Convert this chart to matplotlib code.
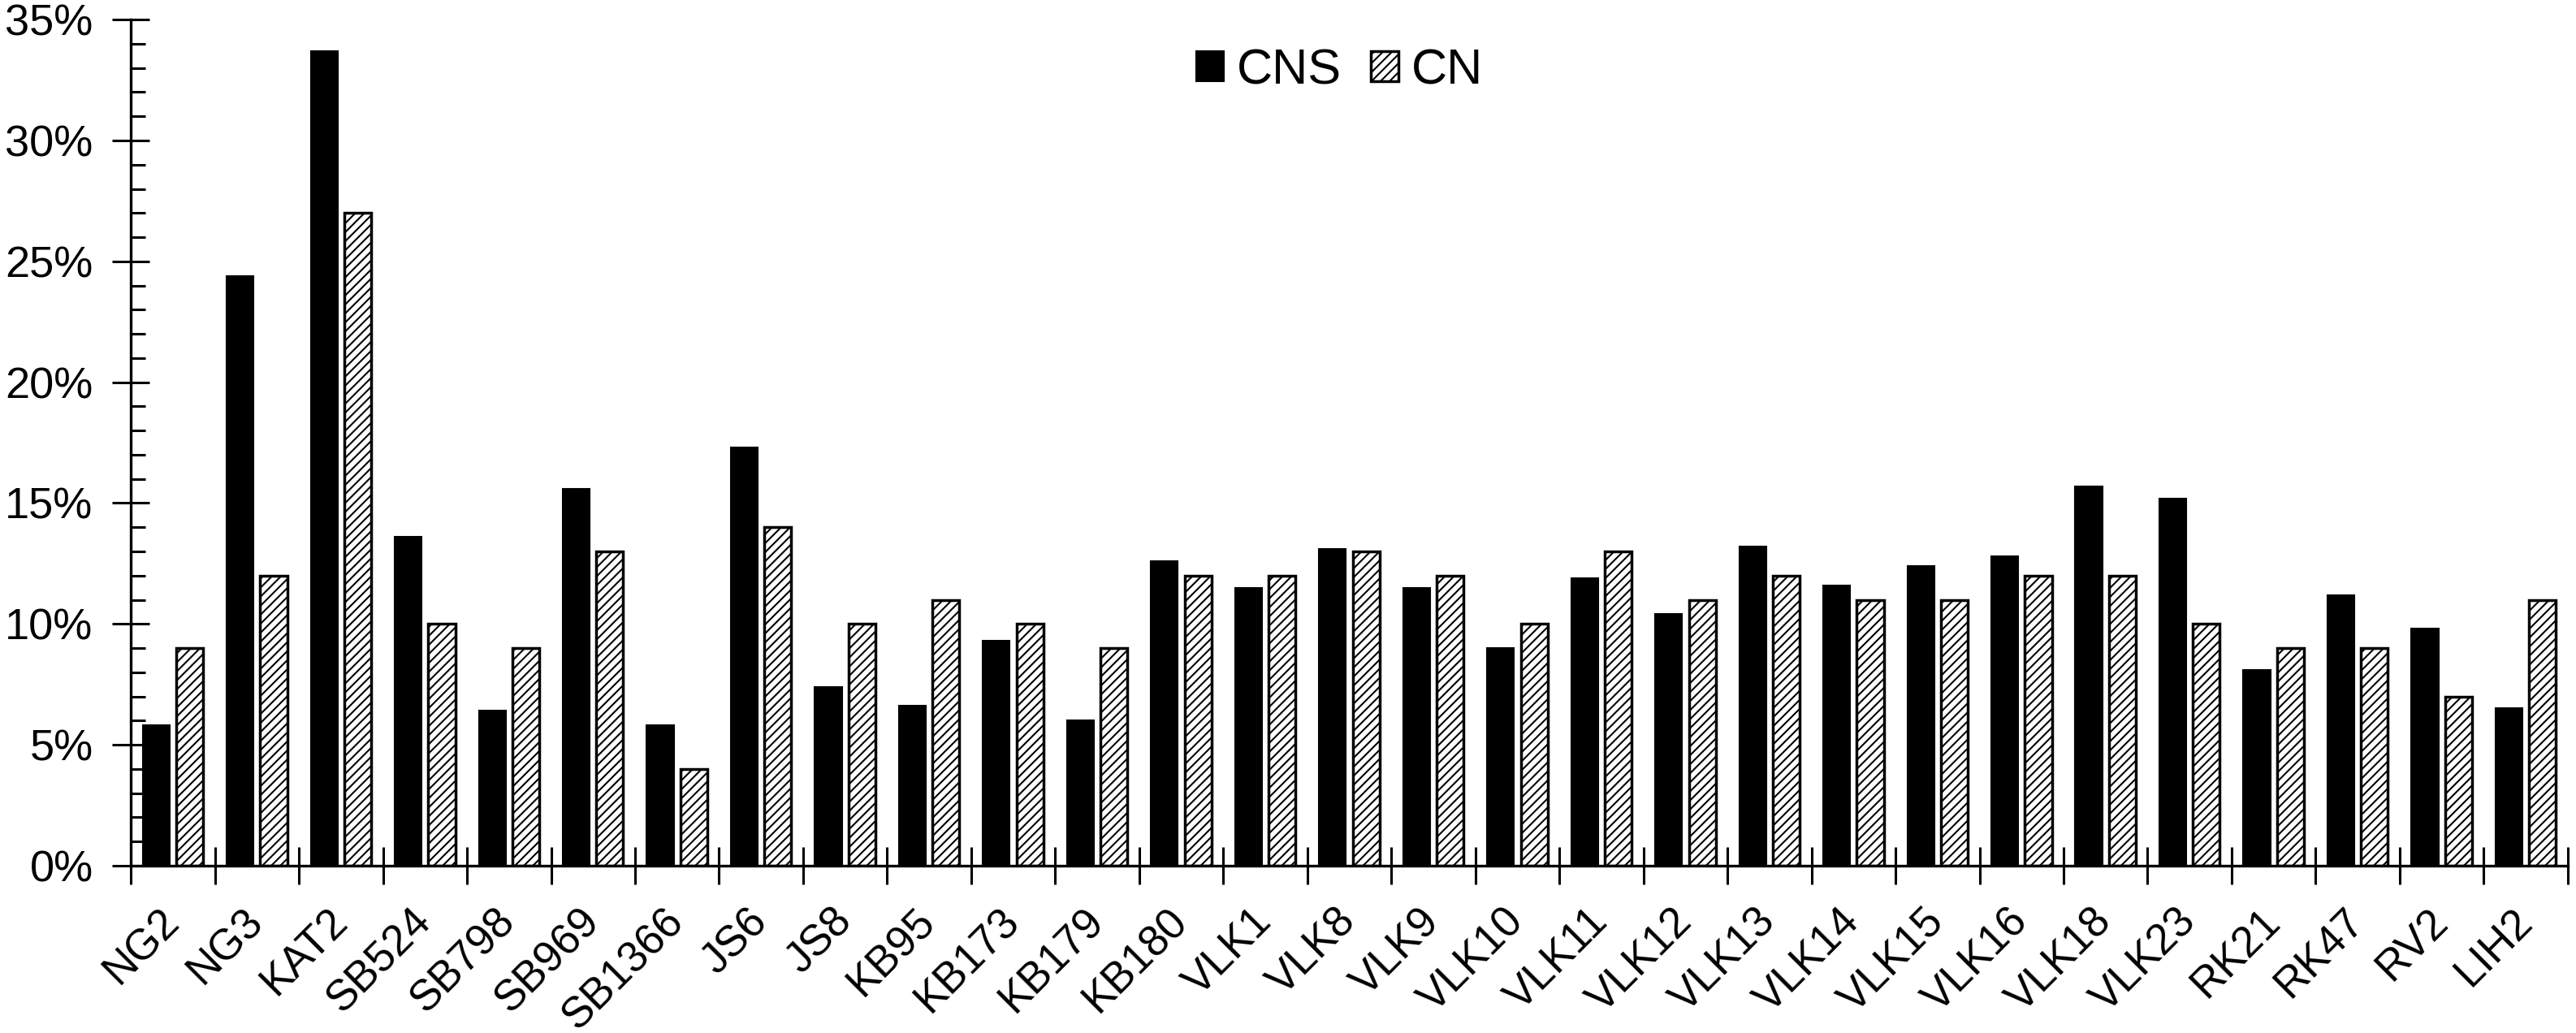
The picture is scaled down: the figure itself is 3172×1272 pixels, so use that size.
import matplotlib
matplotlib.use("Agg")
import matplotlib.pyplot as plt
import numpy as np
from matplotlib.ticker import MultipleLocator, PercentFormatter

plt.rcParams["font.family"] = ["Liberation Sans", "DejaVu Sans"]
plt.rcParams["hatch.linewidth"] = 1.5

strains = ["NG2", "NG3", "KAT2", "SB524", "SB798", "SB969", "SB1366", "JS6", "JS8",
           "KB95", "KB173", "KB179", "KB180", "VLK1", "VLK8", "VLK9", "VLK10", "VLK11",
           "VLK12", "VLK13", "VLK14", "VLK15", "VLK16", "VLK18", "VLK23", "RK21",
           "RK47", "RV2", "LIH2"]
cns = [5.8, 24.4, 33.7, 13.6, 6.4, 15.6, 5.8, 17.3, 7.4,
       6.6, 9.3, 6.0, 12.6, 11.5, 13.1, 11.5, 9.0, 11.9,
       10.4, 13.2, 11.6, 12.4, 12.8, 15.7, 15.2, 8.1,
       11.2, 9.8, 6.5]
cn = [9, 12, 27, 10, 9, 13, 4, 14, 10,
      11, 10, 9, 12, 12, 13, 12, 10, 13,
      11, 12, 11, 11, 12, 12, 10, 9,
      9, 7, 11]

x = np.arange(len(strains))
w = 0.32

fig = plt.figure(figsize=(31.72, 12.72), dpi=100)
ax = fig.add_axes([0.0508, 0.162, 0.946, 0.819])

ax.bar(x - 0.2, cns, w, color="black", edgecolor="black", linewidth=1.5, label="CNS")
ax.bar(x + 0.2, cn, w, color="white", edgecolor="black", linewidth=2.5,
       hatch="///", label="CN")

ax.set_xlim(-0.5, len(strains) - 0.5)
ax.set_ylim(0, 35)
ax.yaxis.set_major_locator(MultipleLocator(5))
ax.yaxis.set_minor_locator(MultipleLocator(1))
ax.yaxis.set_major_formatter(PercentFormatter(decimals=0))

# category boundaries carry the ticks, labels sit on the centres
ax.set_xticks(np.arange(len(strains) + 1) - 0.5)
ax.set_xticklabels([])
ax.set_xticks(x, minor=True)
ax.set_xticklabels(strains, minor=True, rotation=45, ha="right", va="center",
                   rotation_mode="anchor", fontsize=38)
ax.tick_params(axis="x", which="major", direction="inout", length=33, width=2.2)
ax.tick_params(axis="x", which="minor", length=0, pad=44)

ax.tick_params(axis="y", which="major", direction="inout", length=33, width=2.2,
               labelsize=39, pad=17)
ax.tick_params(axis="y", which="minor", direction="in", length=13, width=2.2)

for side in ("top", "right"):
    ax.spines[side].set_visible(False)
for side in ("left", "bottom"):
    ax.spines[side].set_linewidth(2.4)

ax.legend(loc="center", bbox_to_anchor=(0.52, 0.931), bbox_transform=fig.transFigure,
          ncol=2, frameon=False, fontsize=44, handlelength=0.55, handleheight=0.57,
          handletextpad=0.26, columnspacing=0.6)

fig.savefig("out.png", dpi=100)
